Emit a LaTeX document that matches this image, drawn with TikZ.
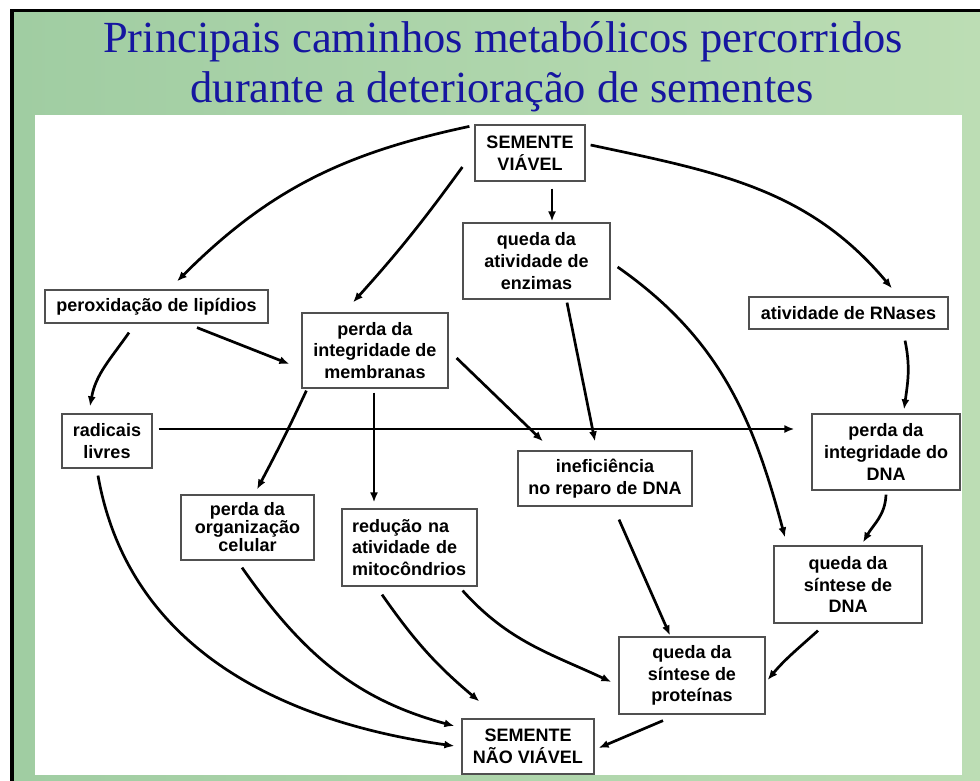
\documentclass[tikz,border=0pt]{standalone}
\usepackage{fontspec}
\setmainfont{Liberation Serif}
\newfontfamily\boxfont{Liberation Sans}
\usetikzlibrary{arrows.meta,calc}
\definecolor{ttl}{RGB}{22,22,160}
\definecolor{gA}{RGB}{160,205,162}
\definecolor{gB}{RGB}{188,221,180}
\definecolor{boxline}{RGB}{80,80,80}
\begin{document}
\begin{tikzpicture}[x=1pt,y=-1pt,
  box/.style={draw=boxline,line width=1.2pt,fill=white,align=center,inner sep=0pt,
    font=\boxfont\bfseries\fontsize{18}{21.7}\selectfont},
  arr/.style={line width=2.7pt,-{Latex[length=10pt,width=8pt]}},
  ttlfont/.style={font=\fontsize{44.5}{50}\selectfont,text=ttl,anchor=base,inner sep=0pt}]
\useasboundingbox (0,0) rectangle (980,781);
% background
\fill[white] (0,0) rectangle (980,781);
\fill[black] (10,9) rectangle (980,13);
\fill[black] (10,9) rectangle (14,781);
\shade[left color=gA,right color=gB] (14,13) rectangle (980,781);
\fill[white] (35,115) rectangle (962,775);
% title
\node[ttlfont] (t1) at (503,53) {Principais caminhos metabólicos percorridos};
\node[ttlfont] (t2) at (502,103) {durante a deterioração de sementes};
% boxes
\node[box,minimum width=110pt,minimum height=56pt] (sv) at (530,153) {SEMENTE\\VIÁVEL};
\node[box,minimum width=223pt,minimum height=33pt] (perox) at (156.5,306.5) {peroxidação de lipídios};
\node[box,minimum width=146pt,minimum height=75pt] (memb) at (375,350.5) {perda da\\integridade de\\membranas};
\node[box,minimum width=147pt,minimum height=76pt] (enz) at (536.5,261) {queda da\\atividade de\\enzimas};
\node[box,minimum width=199pt,minimum height=32pt] (rnase) at (848.5,313) {atividade de RNases};
\node[box,minimum width=90pt,minimum height=54pt] (rad) at (107,441) {radicais\\livres};
\node[box,minimum width=148pt,minimum height=76pt] (dna) at (886,452) {perda da\\integridade do\\DNA};
\node[box,minimum width=174pt,minimum height=55pt] (inef) at (605,478.5) {ineficiência\\no reparo de DNA};
\node[box,minimum width=133pt,minimum height=65pt,font=\boxfont\bfseries\fontsize{18}{18}\selectfont] (org) at (247.5,527.5) {perda da\\organização\\celular};
\node[box,minimum width=135pt,minimum height=77pt,align=left,text width=115pt] (mito) at (409.5,547.5) {redução na\\atividade de\\mitocôndrios};
\node[box,minimum width=148pt,minimum height=77pt] (sdna) at (848,584.5) {queda da\\síntese de\\DNA};
\node[box,minimum width=146pt,minimum height=77pt] (prot) at (692,675.5) {queda da\\síntese de\\proteínas};
\node[box,minimum width=132pt,minimum height=55pt] (snv) at (528,746.5) {SEMENTE\\NÃO VIÁVEL};
% connectors
\draw[arr] ($(sv.north west)+(-5,2)$) to[out=192,in=45] ($(perox.north)+(20.5,-8)$);
\draw[arr] ($(sv.west)+(-12,14)$) to[out=234,in=48] ($(memb.north)+(-22,-10)$);
\draw[arr] ($(sv.south)+(22,7)$) -- ($(enz.north)+(15.5,-1)$);
\draw[arr] ($(sv.east)+(5,-8)$) to[out=-12,in=130] ($(rnase.north)+(43.5,-8)$);
\draw[arr] ($(perox.south)+(-27.5,9)$) to[out=235,in=80] ($(rad.north)+(-17,-7)$);
\draw[arr] ($(perox.south)+(40.5,4)$) -- ($(memb.west)+(-12,13.5)$);
\draw[arr] ($(memb.east)+(8,7.5)$) -- ($(inef.north)+(-62,-9)$);
\draw[arr] ($(enz.south)+(30.5,3)$) -- ($(inef.north)+(-10,-9)$);
\draw[arr] ($(enz.east)+(7,6)$) to[out=-35,in=105] ($(sdna.north)+(-63,-8)$);
\draw[arr] ($(rnase.south)+(56.5,11)$) to[out=-78,in=82] ($(dna.north)+(18,-4)$);
\draw[arr] ($(rad.east)+(6,-12)$) -- ($(dna.west)+(-17,-23)$);
\draw[arr] ($(memb.south west)+(5,2)$) to[out=245,in=62] ($(org.north)+(9.5,-5)$);
\draw[arr] ($(memb.south)+(-1,4)$) -- ($(mito.north)+(-35.5,-6)$);
\draw[arr] ($(dna.south)+(0,4)$) to[out=-92,in=60] ($(sdna.north)+(15,-3)$);
\draw[arr] ($(inef.south)+(14,13)$) -- ($(prot.north)+(-22,-1)$);
\draw[arr] ($(mito.south east)+(-15,4)$) to[out=-48,in=155] ($(prot.west)+(-7,6.5)$);
\draw[arr] ($(sdna.south)+(-30,7)$) to[out=222,in=50] ($(prot.east)+(2,4.5)$);
\draw[arr] ($(prot.south)+(-29,6)$) -- ($(snv.east)+(4,1.5)$);
\draw[arr] ($(mito.south)+(-27.5,8)$) to[out=-55,in=140] ($(snv.north west)+(18,-17)$);
\draw[arr] ($(org.south)+(-5.5,7)$) to[out=-55,in=165] ($(snv.west)+(-7,-20.5)$);
\draw[arr] ($(rad.south)+(-9,7)$) to[out=-80,in=172] ($(snv.west)+(-7,-0.5)$);
\end{tikzpicture}
\end{document}
